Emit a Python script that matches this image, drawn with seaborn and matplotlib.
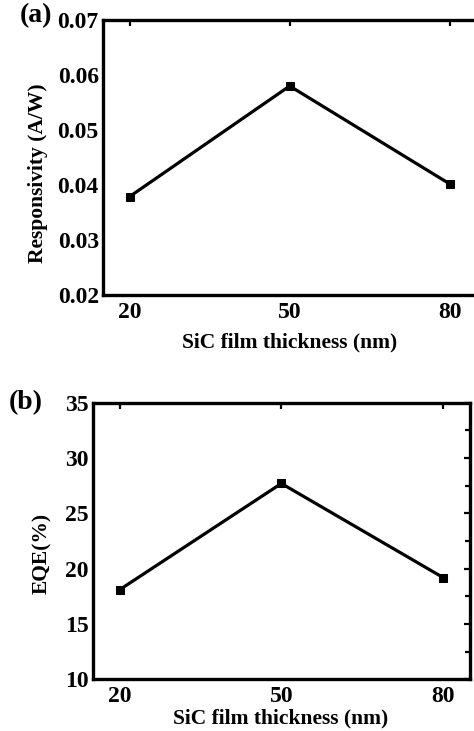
import matplotlib
matplotlib.use("Agg")
import matplotlib.pyplot as plt
import seaborn as sns
import pandas as pd
from matplotlib.ticker import MultipleLocator, FixedLocator, FormatStrFormatter

sns.set_theme(style="white")
plt.rcParams['font.family'] = ['Liberation Serif', 'DejaVu Serif']
plt.rcParams['font.weight'] = 'bold'
for k in ['text.color', 'axes.labelcolor', 'xtick.color', 'ytick.color', 'axes.edgecolor']:
    plt.rcParams[k] = 'black'

thickness = [20, 50, 80]
responsivity = [0.0379, 0.0580, 0.0402]
eqe = [18.1, 27.7, 19.2]
x_ticks = [20, 50, 80]
resp_ticks = [0.02, 0.03, 0.04, 0.05, 0.06, 0.07]
eqe_ticks = [10, 15, 20, 25, 30, 35]

W, H = 474, 731
fig = plt.figure(figsize=(W / 100, H / 100), dpi=100)

def add_ax(left, top, right, bottom):
    return fig.add_axes([left / W, 1 - bottom / H, (right - left) / W, (bottom - top) / H])

ax1 = add_ax(103, 20, 103 + 71 * 160 / 30, 295)
ax2 = add_ax(92.7, 402.7, 470, 679.3)

df1 = pd.DataFrame({"t": thickness, "v": responsivity})
df2 = pd.DataFrame({"t": thickness, "v": eqe})

# (axis, data, yticks, ylabel, xmax, ylabel centre px, xlabel centre px)
cfg = [(ax1, df1, resp_ticks, "Responsivity (A/W)", 86, (38, 173), (290, 342)),
       (ax2, df2, eqe_ticks, "EQE(%)", 85, (42, 553), (281, 718))]

for ax, df, yt, ylab, xmax, ylc, xlc in cfg:
    sns.lineplot(data=df, x="t", y="v", ax=ax, color="black", lw=2.3,
                 marker="s", markersize=6, markeredgecolor="black", markerfacecolor="black")
    ax.set_xlim(15, xmax)
    ax.set_ylim(yt[0], yt[-1])
    ax.xaxis.set_major_locator(FixedLocator(x_ticks))
    ax.yaxis.set_major_locator(FixedLocator(yt))
    step = yt[1] - yt[0]
    ax.yaxis.set_minor_locator(MultipleLocator(step / 2))
    ax.tick_params(which="both", direction="in", top=True, right=True, width=1.6,
                   labelsize=17, color="black", labelcolor="black")
    ax.tick_params(which="major", length=4.5)
    ax.tick_params(which="minor", length=3.5)
    ax.tick_params(axis="y", pad=3)
    ax.tick_params(axis="x", pad=5)
    for lab in ax.get_xticklabels() + ax.get_yticklabels():
        lab.set_fontweight("bold")
    for s in ax.spines.values():
        s.set_linewidth(2.4)
        s.set_color("black")
    ax.set_xlabel("SiC film thickness (nm)", fontsize=15.5, fontweight="bold", color="black")
    ax.set_ylabel(ylab, fontsize=15.5, fontweight="bold", color="black")
    bb = ax.get_position()
    ax_left_px = bb.x0 * W
    ax_w_px = bb.width * W
    ax_top_px = (1 - bb.y1) * H
    ax_h_px = bb.height * H
    ax.yaxis.set_label_coords((ylc[0] - ax_left_px) / ax_w_px, 1 - (ylc[1] - ax_top_px) / ax_h_px)
    ax.yaxis.label.set_va("center")
    ax.xaxis.set_label_coords((xlc[0] - ax_left_px) / ax_w_px, 1 - (xlc[1] - ax_top_px) / ax_h_px)
    ax.xaxis.label.set_va("center")

ax1.yaxis.set_major_formatter(FormatStrFormatter('%.2f'))

fig.text(36 / W, 1 - 16 / H, "(a)", fontsize=20, fontweight="bold", ha="center", va="center")
fig.text(26 / W, 1 - 403 / H, "(b)", fontsize=20, fontweight="bold", ha="center", va="center")

fig.savefig("out.png", dpi=100)
